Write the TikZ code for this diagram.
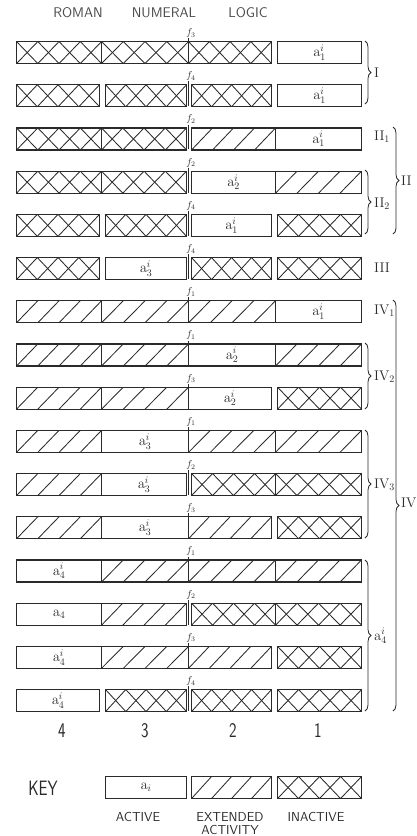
\documentclass[tikz,border=0pt]{standalone}
\usepackage{graphicx}
\usetikzlibrary{calc,decorations.pathreplacing}
\definecolor{ink}{HTML}{2A2A2A}
\tikzset{
  hatch/.style={draw=ink, line width=0.85pt},
  cellbase/.style={draw=ink, line width=1.1pt, anchor=north west, minimum height=22pt,
    inner sep=0pt, text=ink, font=\fontsize{14}{14}\selectfont},
  actv/.style={},
  inact/.style={path picture={
    \foreach \ha/\hb in {0/0.25,0.25/0.5,0.5/0.75,0.75/1}{
      \draw[hatch] ($(path picture bounding box.south west)!\ha!(path picture bounding box.south east)$) --
                   ($(path picture bounding box.north west)!\hb!(path picture bounding box.north east)$);
      \draw[hatch] ($(path picture bounding box.north west)!\ha!(path picture bounding box.north east)$) --
                   ($(path picture bounding box.south west)!\hb!(path picture bounding box.south east)$);
    }}},
  ext/.style={path picture={
    \foreach \ha/\hb in {0/0.25,0.25/0.5,0.5/0.75,0.75/1}{
      \draw[hatch] ($(path picture bounding box.south west)!\ha!(path picture bounding box.south east)$) --
                   ($(path picture bounding box.north west)!\hb!(path picture bounding box.north east)$);
    }}},
  flab/.style={inner sep=0.5pt, text=ink, font=\fontsize{10}{10}\selectfont},
  fline/.style={draw=ink, line width=1pt},
  brc/.style={draw=ink, line width=0.8pt, decorate, decoration={brace, amplitude=6pt}},
  rlab/.style={anchor=west, inner sep=0pt, text=ink, font=\fontsize{14}{14}\selectfont},
  ttl/.style={inner sep=0pt, text=ink!85, font=\sffamily\fontsize{14}{14}\selectfont},
  digit/.style={inner sep=0pt, text=ink, font=\sffamily\fontsize{16}{16}\selectfont},
  keytxt/.style={inner sep=0pt, text=ink, font=\sffamily\fontsize{13}{13}\selectfont},
}
\def\kindA{actv}
\newcommand\celltxt[2]{\def\tmpk{#1}\ifx\tmpk\kindA #2\fi}
\newcommand\alab[1]{$\mathrm{a}^{i}_{#1}$}
\newcommand\mycell[5]{\node[cellbase,#2,minimum width={#4-#3}] (#1) at (#3,\rt) {\celltxt{#2}{#5}};}
\newcommand\myrow[7]{%
  \pgfmathsetmacro\rt{41+43.2*(#1-1)}%
  \pgfmathsetmacro\rb{\rt+22}%
  \ifcase#2 \or
    \def\Ra{101}\def\Lb{101}\def\Rb{188}\def\Lc{188}\def\Rc{275}\def\Ld{275}%
  \or
    \def\Ra{101}\def\Lb{101}\def\Rb{186}\def\Lc{191}\def\Rc{275}\def\Ld{275}%
  \or
    \def\Ra{101}\def\Lb{101}\def\Rb{188}\def\Lc{188}\def\Rc{271}\def\Ld{277}%
  \or
    \def\Ra{99}\def\Lb{105}\def\Rb{186}\def\Lc{191}\def\Rc{271}\def\Ld{277}%
  \fi
  \mycell{r#1c4}{#3}{16}{\Ra}{#7}
  \mycell{r#1c3}{#4}{\Lb}{\Rb}{#7}
  \mycell{r#1c2}{#5}{\Lc}{\Rc}{#7}
  \mycell{r#1c1}{#6}{\Ld}{361}{#7}
  \node[flab] (f#1) at (191,\rt-8) {$f_{#2}$};
  \coordinate (fb#1) at (188,\rb);
  \draw[fline] (f#1.south -| fb#1) -- (fb#1);
}
\begin{document}
\begin{tikzpicture}[x=1pt,y=-1pt]
\useasboundingbox (0,0) rectangle (417,836);
% title
\node[ttl] (t1) at (78,13) {ROMAN};
\node[ttl] (t2) at (164,13) {NUMERAL};
\node[ttl] (t3) at (248,13) {LOGIC};
% rows
\myrow{1}{3}{inact}{inact}{inact}{actv}{\alab{1}}
\myrow{2}{4}{inact}{inact}{inact}{actv}{\alab{1}}
\myrow{3}{2}{inact}{inact}{ext}{actv}{\alab{1}}
\myrow{4}{2}{inact}{inact}{actv}{ext}{\alab{2}}
\myrow{5}{4}{inact}{inact}{actv}{inact}{\alab{1}}
\myrow{6}{4}{inact}{actv}{inact}{inact}{\alab{3}}
\myrow{7}{1}{ext}{ext}{ext}{actv}{\alab{1}}
\myrow{8}{1}{ext}{ext}{actv}{ext}{\alab{2}}
\myrow{9}{3}{ext}{ext}{actv}{inact}{\alab{2}}
\myrow{10}{1}{ext}{actv}{ext}{ext}{\alab{3}}
\myrow{11}{2}{ext}{actv}{inact}{inact}{\alab{3}}
\myrow{12}{3}{ext}{actv}{ext}{inact}{\alab{3}}
\myrow{13}{1}{actv}{ext}{ext}{ext}{\alab{4}}
\myrow{14}{2}{actv}{ext}{inact}{inact}{$\mathrm{a}_{4}$}
\myrow{15}{3}{actv}{ext}{ext}{inact}{\alab{4}}
\myrow{16}{4}{actv}{inact}{inact}{inact}{\alab{4}}
% braces and labels
\coordinate (bIt) at (365,41);   \coordinate (bIb) at (365,104);
\draw[brc] (bIt) -- (bIb);
\node[rlab] (lI) at (374,72.5) {I};
\node[rlab] (lII1) at (374,137) {II$_1$};
\coordinate (bII2t) at (365,170); \coordinate (bII2b) at (365,234);
\draw[brc] (bII2t) -- (bII2b);
\node[rlab] (lII2) at (374,204) {II$_2$};
\coordinate (bIIt) at (393,127); \coordinate (bIIb) at (393,234);
\draw[brc] (bIIt) -- (bIIb);
\node[rlab] (lII) at (401,181) {II};
\node[rlab] (lIII) at (374,268) {III};
\node[rlab] (lIV1) at (374,311) {IV$_1$};
\coordinate (bIV2t) at (365,343); \coordinate (bIV2b) at (365,409);
\draw[brc] (bIV2t) -- (bIV2b);
\node[rlab] (lIV2) at (374,377) {IV$_2$};
\coordinate (bIV3t) at (365,430); \coordinate (bIV3b) at (365,538);
\draw[brc] (bIV3t) -- (bIV3b);
\node[rlab] (lIV3) at (374,485) {IV$_3$};
\coordinate (bA4t) at (365,560); \coordinate (bA4b) at (365,711);
\draw[brc] (bA4t) -- (bA4b);
\node[rlab] (lA4) at (374,636) {$\mathrm{a}^{i}_{4}$};
\coordinate (bIVt) at (393,300); \coordinate (bIVb) at (393,711);
\draw[brc] (bIVt) -- (bIVb);
\node[rlab] (lIV) at (401,503) {IV};
% column numbers
\node[digit] (d4) at (62,731) {\scalebox{1}[1.3]{4}};
\node[digit] (d3) at (145,731) {\scalebox{1}[1.3]{3}};
\node[digit] (d2) at (233,731) {\scalebox{1}[1.3]{2}};
\node[digit] (d1) at (318,731) {\scalebox{1}[1.3]{1}};
% key
\node[digit] (key) at (43,788) {\scalebox{1}[1.3]{KEY}};
\node[cellbase,actv,minimum width=81] (kA) at (105,776) {$\mathrm{a}_{i}$};
\node[cellbase,ext,minimum width=80] (kE) at (191,776) {};
\node[cellbase,inact,minimum width=84] (kX) at (277,776) {};
\node[keytxt] (kAt) at (138,817) {ACTIVE};
\node[keytxt] (kEt) at (230,817) {EXTENDED};
\node[keytxt] (kEt2) at (230,830) {ACTIVITY};
\node[keytxt] (kXt) at (316,817) {INACTIVE};
\end{tikzpicture}
\end{document}
